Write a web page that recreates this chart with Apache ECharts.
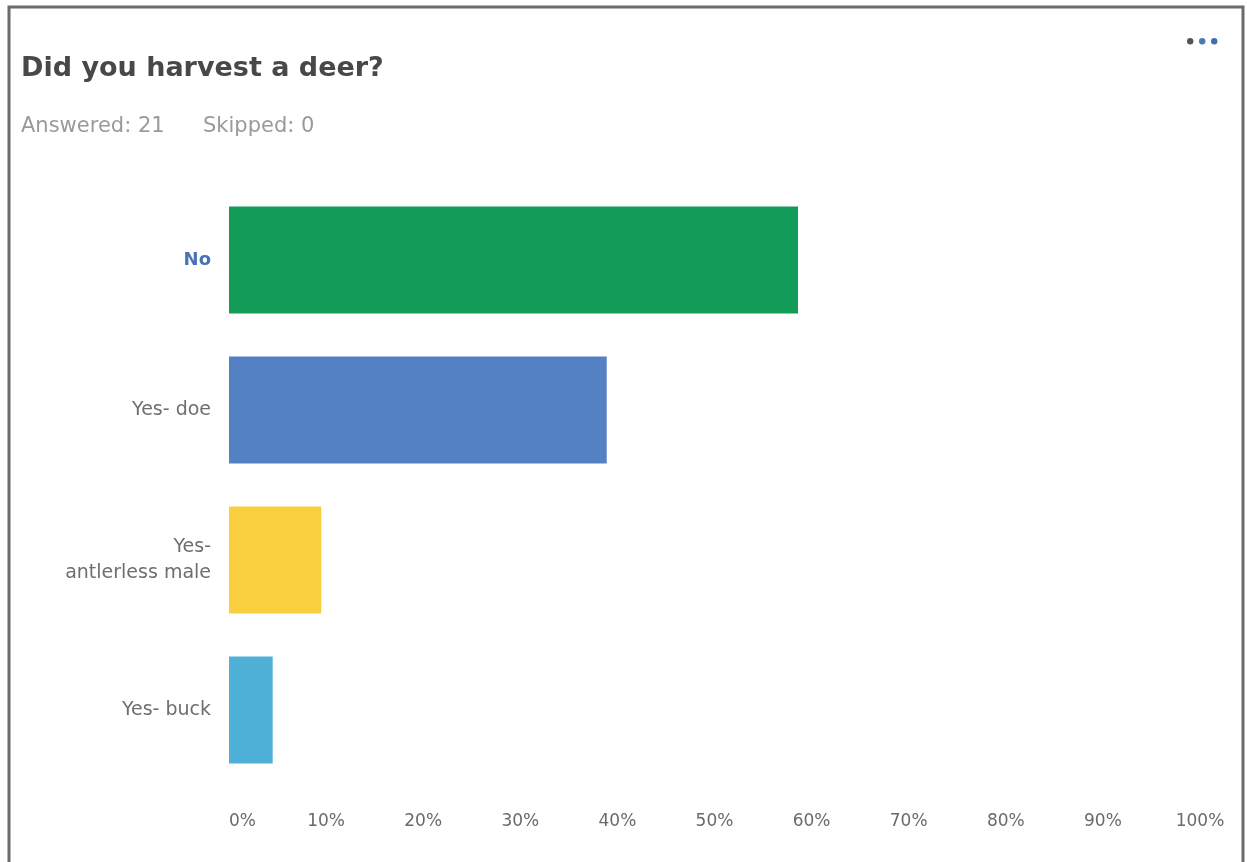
<!DOCTYPE html>
<html>
<head>
<meta charset="utf-8">
<script src="https://cdn.jsdelivr.net/npm/echarts@6/dist/echarts.min.js"></script>
<style>
  html, body { margin: 0; padding: 0; background: #fff; }
  #chart { width: 1247px; height: 862px; }
</style>
</head>
<body>
<div id="chart"></div>
<script>
// answer options, top to bottom
var categories = ['No', 'Yes- doe', 'Yes-\nantlerless male', 'Yes- buck'];
// percent of respondents
var percents = [58.6, 38.9, 9.5, 4.5];
var barColors = ['#129c57', '#5481c3', '#f9cf3e', '#4fb0d8'];
var tickValues = [0, 10, 20, 30, 40, 50, 60, 70, 80, 90, 100];

var chart = echarts.init(document.getElementById('chart'));

var option = {
    backgroundColor: '#fff',
    animation: false,
    title: [{
        text: 'Did you harvest a deer?',
        left: 16,
        top: 50,
        textStyle: {
            fontFamily: 'DejaVu Sans',
            fontSize: 27,
            fontWeight: 'bold',
            color: '#484848'
        }
    }, {
        text: 'Answered: 21',
        left: 16,
        top: 111,
        textStyle: {
            fontFamily: 'DejaVu Sans',
            fontSize: 21,
            fontWeight: 'normal',
            color: '#9a9a9a'
        }
    }, {
        text: 'Skipped: 0',
        left: 198,
        top: 111,
        textStyle: {
            fontFamily: 'DejaVu Sans',
            fontSize: 21,
            fontWeight: 'normal',
            color: '#9a9a9a'
        }
    }],
    graphic: [
        // outer frame
        {
            type: 'rect',
            shape: { x: 9, y: 7, width: 1234, height: 870 },
            style: { fill: 'none', stroke: '#6b6b6b', lineWidth: 3 },
            silent: true
        },
        // menu dots
        {
            type: 'group',
            left: 1187,
            top: 38,
            children: [
                { type: 'circle', shape: { cx: 3, cy: 3, r: 3.2 }, style: { fill: '#555' } },
                { type: 'circle', shape: { cx: 15, cy: 3, r: 3.2 }, style: { fill: '#4a7ab5' } },
                { type: 'circle', shape: { cx: 27, cy: 3, r: 3.2 }, style: { fill: '#3f6fae' } }
            ]
        }
    ],
    grid: {
        left: 229,
        right: 47,
        top: 185,
        height: 600
    },
    xAxis: {
        type: 'value',
        min: 0,
        max: 100,
        interval: 10,
        axisLine: { show: false },
        axisTick: { show: false },
        splitLine: { show: false },
        axisLabel: {
            margin: 28,
            alignMinLabel: 'left',
            fontFamily: 'DejaVu Sans',
            fontSize: 17,
            color: '#6a6a6a',
            formatter: function (v) {
                return tickValues.indexOf(v) >= 0 ? v + '%' : '';
            }
        }
    },
    yAxis: {
        type: 'category',
        inverse: true,
        data: categories,
        axisLine: { show: false },
        axisTick: { show: false },
        axisLabel: {
            margin: 18,
            fontFamily: 'DejaVu Sans',
            fontSize: 19,
            lineHeight: 26,
            color: '#6e6e6e',
            formatter: function (v) {
                return v === 'No' ? '{hl|' + v + '}' : v;
            },
            rich: {
                hl: {
                    color: '#4a72b8',
                    fontWeight: 'bold',
                    fontFamily: 'DejaVu Sans',
                    fontSize: 18
                }
            }
        }
    },
    series: [{
        type: 'bar',
        barCategoryGap: '28.7%',
        data: percents.map(function (v, i) {
            return { value: v, itemStyle: { color: barColors[i] } };
        }),
        label: { show: false }
    }]
};

chart.setOption(option);
</script>
</body>
</html>
